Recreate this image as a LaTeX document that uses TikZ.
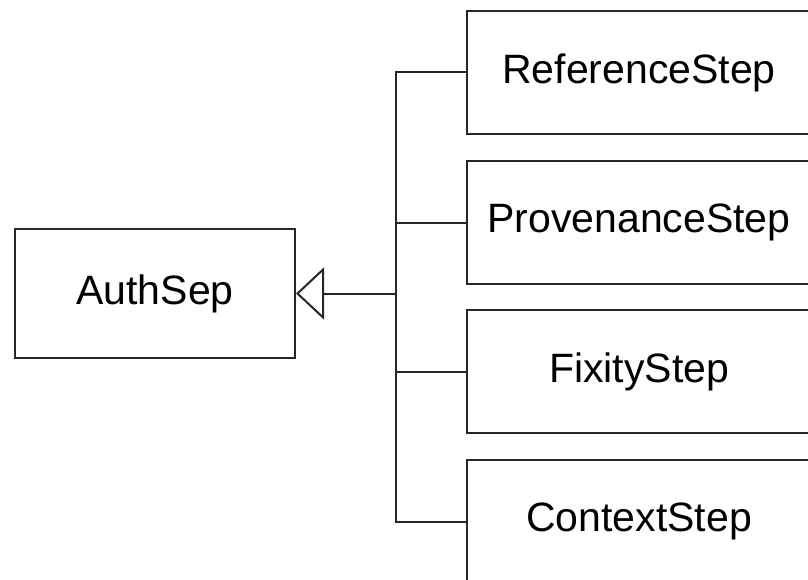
\documentclass[tikz,border=0pt]{standalone}
\usepackage{fontspec}
\setmainfont{Liberation Sans}
\usetikzlibrary{arrows.meta}
\begin{document}
\begin{tikzpicture}[x=1pt,y=-1pt,
  line width=2pt,
  classbox/.style={draw=black!85, inner sep=0pt, font=\fontsize{41}{45}\selectfont},
  stepbox/.style={classbox, minimum width=344pt, minimum height=123pt},
  inherit/.style={-{Triangle[open,length=28pt,width=52pt,line width=2pt]}}]
  \useasboundingbox (0,0) rectangle (808,580);
  \clip (0,0) rectangle (808,580);
  % parent class
  \node[classbox, minimum width=280pt, minimum height=129pt] (auth) at (155,293.5) {AuthSep};
  % subclasses
  \node[stepbox] (ref)  at (639,72.5)  {ReferenceStep};
  \node[stepbox] (prov) at (639,222.5) {ProvenanceStep};
  \node[stepbox] (fix)  at (639,371.5) {FixityStep};
  \node[stepbox] (ctx)  at (639,521.5) {ContextStep};
  % joint of the generalisation tree
  \coordinate (bus) at (396,293.5);
  \draw[draw=black!85] (ref.west) -- (ref.west -| bus) -- (ctx.west -| bus) -- (ctx.west);
  \draw[draw=black!85] (prov.west) -- (prov.west -| bus);
  \draw[draw=black!85] (fix.west) -- (fix.west -| bus);
  \draw[draw=black!85, inherit] (bus) -- (auth.east);
\end{tikzpicture}
\end{document}
